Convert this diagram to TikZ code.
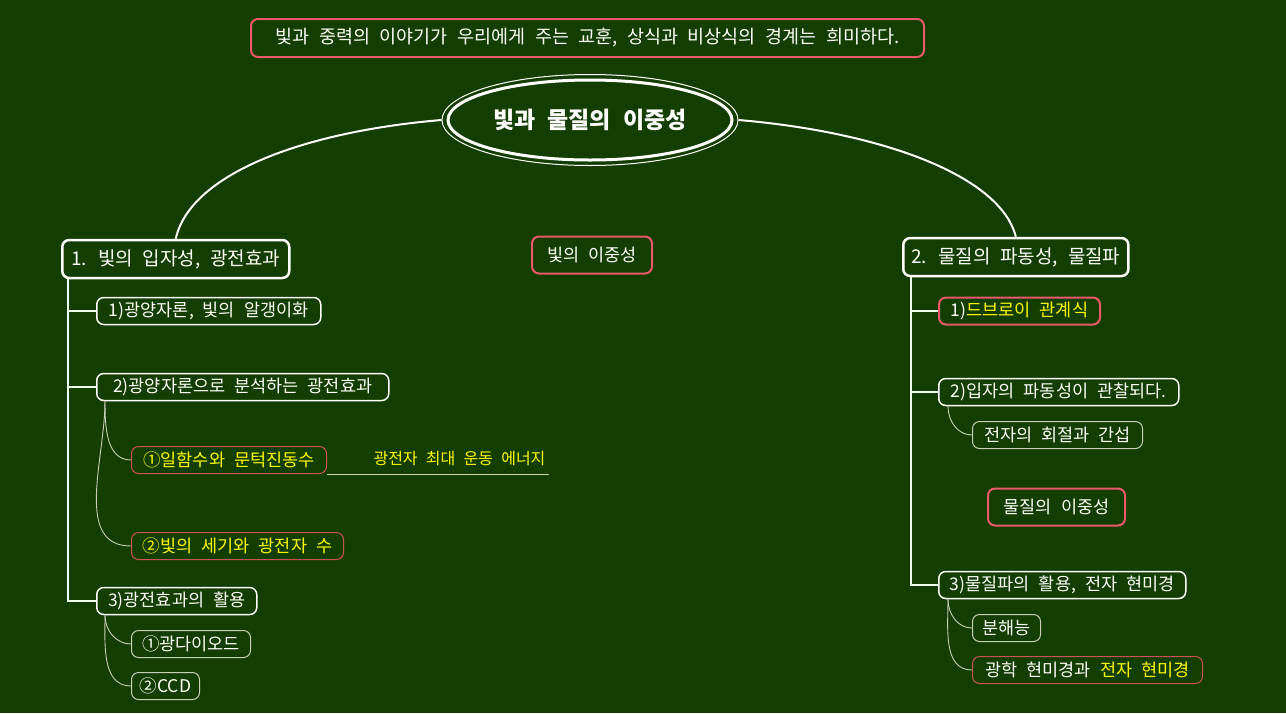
\documentclass[tikz,border=0pt]{standalone}
\usepackage{fontspec}
\setmainfont{Noto Sans CJK KR}[WordSpace=2.3]
\usepackage{xcolor}
\definecolor{BoardGreen}{RGB}{19,62,0}
\definecolor{NotePink}{RGB}{234,88,110}
\definecolor{LeafRed}{RGB}{205,80,90}
\definecolor{ChalkGray}{RGB}{200,206,190}
\definecolor{ChalkYellow}{RGB}{255,250,0}
\usepackage{tikz}
\usetikzlibrary{shapes.geometric, positioning, calc}

\tikzset{
	boxbase/.style={rounded corners=7pt, anchor=west, text=white, inner xsep=8pt, font=\fontsize{17.5}{20}\selectfont},
	topicbox/.style={boxbase, draw=white, line width=2.5pt, minimum height=38pt, font=\fontsize{19}{22}\selectfont},
	subbox/.style={boxbase, draw=white, line width=1.5pt, minimum height=27pt},
	leafbox/.style={boxbase, draw=ChalkGray, line width=1pt, minimum height=27pt},
	notebox/.style={boxbase, draw=NotePink, line width=2pt, minimum height=37pt},
	redleaf/.style={boxbase, draw=LeafRed, line width=1pt, minimum height=27pt},
	branch/.style={white!92!green, line width=1.4pt},
	twig/.style={ChalkGray, line width=0.9pt}
}

\begin{document}
\begin{tikzpicture}[x=1pt,y=-1pt]
\fill[BoardGreen] (0,0) rectangle (1286,713);
\useasboundingbox (0,0) rectangle (1286,713);

% title and core
\node[notebox, minimum height=38pt, minimum width=673pt, font=\fontsize{18.5}{22}\selectfont] (lesson) at (250,38) {빛과 중력의 이야기가 우리에게 주는 교훈, 상식과 비상식의 경계는 희미하다.};
\node[ellipse, draw=white, line width=3pt, inner sep=0pt, minimum width=284pt, minimum height=80pt, text=white, font=\bfseries\fontsize{23}{26}\selectfont] (core) at (590,120) {빛과 물질의 이중성};
\node[ellipse, draw=white, line width=1pt, minimum width=296pt, minimum height=91pt] (coreRing) at (590,120) {};

% main topics
\node[topicbox, minimum width=227pt] (light) at (61,259) {1. 빛의 입자성, 광전효과};
\node[topicbox, minimum width=222pt] (matter) at (902,257) {2. 물질의 파동성, 물질파};
\draw[white, line width=2pt] (coreRing.west) .. controls (300,132) and (190,175) .. (light.north);
\draw[white, line width=2pt] (coreRing.east) .. controls (880,132) and (1000,175) .. (matter.north);

\node[notebox, minimum width=120pt] (lightDual) at (531,255) {빛의 이중성};
\node[notebox, minimum width=137pt] (matterDual) at (987,507) {물질의 이중성};

% left branch
\node[subbox, minimum width=224pt] (photon) at (96,311) {1)광양자론, 빛의 알갱이화};
\node[subbox, minimum width=292pt] (effect) at (96,387) {2)광양자론으로 분석하는 광전효과};
\node[redleaf, minimum width=195pt, text=ChalkYellow] (work) at (131,460) {①일함수와 문턱진동수};
\node[redleaf, minimum width=212pt, text=ChalkYellow] (intensity) at (131,546) {②빛의 세기와 광전자 수};
\node[anchor=west, text=ChalkYellow, font=\fontsize{16}{18}\selectfont] (energy) at (370,459) {광전자 최대 운동 에너지};
\node[subbox, minimum width=160pt] (usage) at (96,601) {3)광전효과의 활용};
\node[leafbox, minimum width=119pt] (diode) at (131,644) {①광다이오드};
\node[leafbox, minimum width=68pt] (ccd) at (131,686) {②CCD};

\foreach \n in {photon, effect, usage}
	\draw[branch] ([xshift=7pt]light.south west) |- (\n.west);
\foreach \n in {work, intensity}
	\draw[twig] ([xshift=9pt]effect.south west) to[out=-90, in=180] (\n.west);
\foreach \n in {diode, ccd}
	\draw[twig] ([xshift=9pt]usage.south west) to[out=-90, in=180] (\n.west);
\draw[twig] (work.south east) -- (work.south east -| energy.east);

% right branch
\node[notebox, minimum height=27pt, minimum width=161pt] (debroglie) at (938,311) {1)\textcolor{ChalkYellow}{드브로이 관계식}};
\node[subbox, minimum width=240pt] (observe) at (938,392) {2)입자의 파동성이 관찰되다.};
\node[leafbox, minimum width=170pt] (diffract) at (972,435) {전자의 회절과 간섭};
\node[subbox, minimum width=247pt] (microUse) at (938,585) {3)물질파의 활용, 전자 현미경};
\node[leafbox, minimum width=68pt] (resolve) at (972,628) {분해능};
\node[redleaf, minimum width=230pt] (microCompare) at (972,670) {광학 현미경과 \textcolor{ChalkYellow}{전자 현미경}};

\foreach \n in {debroglie, observe, microUse}
	\draw[branch] ([xshift=9pt]matter.south west) |- (\n.west);
\draw[twig] ([xshift=10pt]observe.south west) to[out=-90, in=180] (diffract.west);
\foreach \n in {resolve, microCompare}
	\draw[twig] ([xshift=10pt]microUse.south west) to[out=-90, in=180] (\n.west);
\end{tikzpicture}
\end{document}
